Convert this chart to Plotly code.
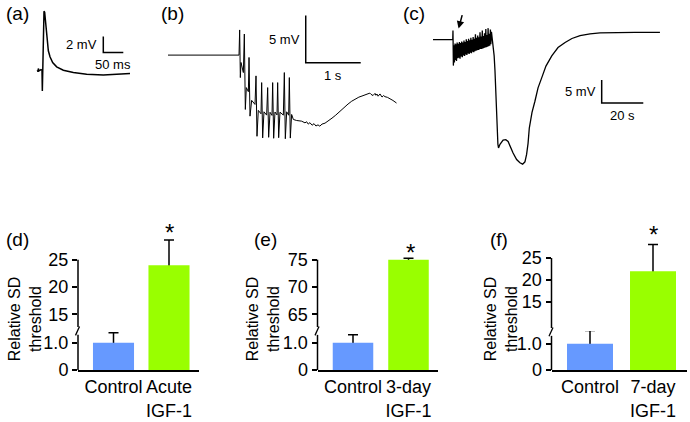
import plotly.graph_objects as go

W, H = 690, 422
FONT = "Liberation Sans, Arial, sans-serif"

# ---------------- data ----------------
# (a) single evoked response: time (ms), voltage (mV)
a_time_ms = [0, 1.75, 2.6, 4.25, 9.25, 11.75, 12.6, 13.4, 15.1, 16.75, 18.4, 20.1, 21.75,
             24.25, 27.6, 31.75, 38.4, 48.4, 65.1, 90.1, 123.4, 165.1, 198.4, 231.75]
a_volt_mv = [0.02, -0.15, 0.23, -0.06, 0.10, 0.02, -2.56, -0.90, 4.52, 7.35, 7.23, 6.40, 4.94,
             3.48, 2.44, 1.69, 0.98, 0.44, 0.02, -0.27, -0.48, -0.56, -0.48, -0.40]

# (b) burst of spikes followed by slow wave: time (s), voltage (mV)
b_time_s = [0, 1.291, 1.303, 1.315, 1.327, 1.370, 1.388, 1.406, 1.424, 1.461, 1.473, 1.491,
            1.521, 1.582, 1.600, 1.618, 1.642, 1.691, 1.703, 1.721, 1.745, 1.794, 1.812,
            1.830, 1.855, 1.891, 1.903, 1.921, 1.945, 1.982, 1.994, 2.012, 2.036, 2.097,
            2.115, 2.133, 2.158, 2.194, 2.206, 2.224, 2.248, 2.279, 2.339, 2.430, 2.491,
            2.52, 2.55, 2.58, 2.62, 2.655, 2.69, 2.727, 2.76, 2.80, 2.855, 2.92, 2.982,
            3.05, 3.127, 3.20, 3.273, 3.34, 3.40, 3.47, 3.527, 3.58, 3.636, 3.67, 3.691,
            3.727, 3.764, 3.78, 3.80, 3.82, 3.855, 3.891, 3.92, 3.945, 3.99, 4.036, 4.09, 4.155]
b_volt_mv = [0, 0, 2.66, -2.38, -0.78, -1.85, 2.23, -5.75, -3.44, -3.87, -0.25, -6.46,
             -4.79, -5.22, -2.20, -8.59, -5.85, -6.21, -2.91, -8.76, -6.00, -6.35, -3.44,
             -8.70, -6.05, -6.38, -2.91, -8.80, -6.02, -6.33, -2.91, -8.74, -6.04, -6.35,
             -1.85, -8.85, -6.00, -6.36, -2.38, -8.78, -6.28, -6.81, -6.92, -6.99, -7.17,
             -7.05, -7.30, -7.15, -7.42, -7.25, -7.50, -7.38, -7.52, -7.30, -7.20, -6.95, -6.67,
             -6.35, -5.93, -5.55, -5.18, -4.88, -4.65, -4.45, -4.33, -4.22, -4.17, -4.02, -4.15,
             -4.28, -4.05, -4.25, -4.12, -4.35, -4.11, -4.44, -4.28, -4.40, -4.47, -4.60, -4.80, -5.07]

# (c) spreading depression: time (s), voltage (mV)
c_time_s = [0, 9.5, 9.6, 9.8, 10.1, 10.3, 10.6, 10.8, 11.1, 11.3, 11.6, 11.9, 12.2, 12.4, 12.7,
            13.0, 13.3, 13.5, 13.8, 14.1, 14.4, 14.6, 14.9, 15.2, 15.5, 15.7, 16.0, 16.3,
            16.6, 16.8, 17.1, 17.4, 17.7, 17.9, 18.2, 18.5, 18.8, 19.0, 19.3, 19.6, 19.9,
            20.1, 20.4, 20.7, 21.0, 21.2, 21.5, 21.8, 22.1, 22.3, 22.6, 22.9, 23.2, 23.4,
            23.7, 24.0, 24.3, 24.5, 24.8, 25.1, 25.4, 25.6, 25.9, 26.2, 26.5, 26.7, 27.0,
            27.3, 27.6, 27.8, 28.1, 28.4, 28.6, 29.0, 29.4, 29.8, 30.3, 30.8, 31.2, 31.5,
            32.2, 33.7, 35.0, 36.1, 37.0, 38.5, 40.2, 41.8, 43.1, 44.2, 45.0, 45.7, 46.3,
            47.6, 49.0, 50.5, 52.3, 54.3, 57.1, 60.1, 63.5, 66.8, 70.7, 75.5, 80.3, 87.5,
            97.1, 109.1]
c_volt_mv = [0, 0, 2.0, -5.6, -1.2, -4.9, -0.8, -4.4, -1.0, -4.6, -0.6, -4.0, -0.9, -3.9, -0.5,
             -4.1, -0.7, -3.6, -0.4, -3.8, -0.6, -3.4, -0.2, -3.5, -0.5, -3.2, 0.1, -3.3,
             -0.3, -3.0, 0.2, -3.1, -0.1, -2.8, 0.4, -2.9, 0.0, -2.6, 0.6, -2.7, 0.2,
             -2.5, 1.2, -2.4, 0.4, -2.3, 0.9, -2.2, 0.5, -2.1, 1.6, -2.0, 0.7, -2.0,
             2.0, -1.9, 0.8, -1.8, 1.4, -1.7, 2.3, -1.6, 1.0, -1.5, 2.5, -1.4, 1.3,
             -1.3, 2.2, -1.0, 1.7, 0.5, 1.0, -0.9, -3.5, -6.7, -13.3, -19.5, -22.6, -23.4,
             -22.6, -21.7, -21.6, -22.0, -23.0, -24.5, -25.9, -26.6, -26.9, -26.4, -24.8, -22.4, -19.1,
             -15.7, -13.3, -10.4, -8.2, -5.7, -3.5, -1.7, -0.6, 0.26, 0.87, 1.26, 1.46, 1.54,
             1.59, 1.59]

# scale bars: (vertical mV, horizontal time)
scale_a = (2, 50)    # mV, ms
scale_b = (5, 1)     # mV, s
scale_c = (5, 20)    # mV, s

# (d)-(f) relative SD threshold bars
cats_d = ["Control", "Acute<br>IGF-1"]
vals_d = [1.0, 24.0]
err_d = [0.36, 4.6]
cats_e = ["Control", "3-day<br>IGF-1"]
vals_e = [1.0, 75.0]
err_e = [0.29, 0.25]
cats_f = ["Control", "7-day<br>IGF-1"]
vals_f = [1.0, 22.0]
err_f = [0.5, 6.1]
ticks_low = [0, 1.0]
ticklabels_low = ["0", "1.0"]
ticks_up_d = [15, 20, 25]
ticks_up_e = [65, 70, 75]
ticks_up_f = [15, 20, 25]
bar_colors = ["#6699FF", "#99FF00"]

# ---------------- helpers (pixel geometry) ----------------
def xdom(p0, p1):
    return [p0 / W, p1 / W]

def ydom(pb, pt):
    return [1 - pb / H, 1 - pt / H]

def xrng(p0, p1, pref, vref, ppu):
    return [vref + (p0 - pref) / ppu, vref + (p1 - pref) / ppu]

def yrng(pb, pt, pref, vref, ppu):
    return [vref - (pb - pref) / ppu, vref + (pref - pt) / ppu]

TS = 1.03          # vertical stretch of the trace row
def ty(p):
    return p * TS + 0.5

DY = 7             # vertical offset of the bar row

fig = go.Figure()
layout = dict(width=W, height=H, margin=dict(l=0, r=0, t=0, b=0),
              paper_bgcolor="white", plot_bgcolor="white", showlegend=False,
              barmode="overlay", font=dict(family=FONT, color="black"))
shapes = []
annotations = []

hidden = dict(visible=False, showgrid=False, zeroline=False, fixedrange=True)

# ---- top trace panels ----
trace_panels = [
    dict(t=a_time_ms, v=a_volt_mv, xd=(25, 140), yd=(100, 0), xref=37.3, yref=69.5,
         ppx=0.4, ppy=8.0, lw=1.5, scale=scale_a, sb=(165.0, 2.225),
         lab_v="%d mV" % scale_a[0], lab_h="%d ms" % scale_a[1]),
    dict(t=b_time_s, v=b_volt_mv, xd=(162, 405), yd=(145, 5), xref=168.0, yref=54.3,
         ppx=55.0, ppy=9.4, lw=1.0, scale=scale_b, sb=(2.504, -0.82),
         lab_v="%d mV" % scale_b[0], lab_h="%d s" % scale_b[1]),
    dict(t=c_time_s, v=c_volt_mv, xd=(425, 675), yd=(178, 5), xref=433.0, yref=39.0,
         ppx=2.08, ppy=4.6, lw=1.3, scale=scale_c, sb=(81.1, -13.7),
         lab_v="%d mV" % scale_c[0], lab_h="%d s" % scale_c[1]),
]
for i, p in enumerate(trace_panels, start=1):
    xa = "x" if i == 1 else "x%d" % i
    ya = "y" if i == 1 else "y%d" % i
    fig.add_trace(go.Scatter(x=p["t"], y=p["v"], mode="lines", xaxis=xa, yaxis=ya,
                             line=dict(color="black", width=p["lw"]), hoverinfo="skip"))
    layout["xaxis" if i == 1 else "xaxis%d" % i] = dict(
        hidden, domain=xdom(*p["xd"]), range=xrng(p["xd"][0], p["xd"][1], p["xref"], 0, p["ppx"]),
        anchor=ya)
    yb, yt = ty(p["yd"][0]), max(0, ty(p["yd"][1]))
    layout["yaxis" if i == 1 else "yaxis%d" % i] = dict(
        hidden, domain=ydom(yb, yt), range=yrng(yb, yt, ty(p["yref"]), 0, p["ppy"] * TS),
        anchor=xa)
    sx, sy = p["sb"]
    dv, dt = p["scale"]
    shapes.append(dict(type="path", xref=xa, yref=ya,
                       path="M %f,%f L %f,%f L %f,%f" % (sx, sy + dv, sx, sy, sx + dt, sy),
                       line=dict(color="black", width=1.5)))
    annotations.append(dict(xref=xa, yref=ya, x=sx, y=sy + dv * 0.5, xshift=-4,
                            text=p["lab_v"], showarrow=False, xanchor="right", yanchor="middle",
                            font=dict(size=13, family=FONT)))
    annotations.append(dict(xref=xa, yref=ya, x=sx + dt / 2, y=sy, yshift=-3,
                            text=p["lab_h"], showarrow=False, xanchor="center", yanchor="top",
                            font=dict(size=13, family=FONT)))

# arrow in (c)
annotations.append(dict(xref="x3", yref="y3", x=12.3, y=2.4, ax=4, ay=-15, showarrow=True,
                        arrowhead=2, arrowsize=1, arrowwidth=1.5, arrowcolor="black", text=""))

# ---- bar panels ----
bar_panels = [
    dict(cats=cats_d, vals=vals_d, err=err_d, up_ticks=ticks_up_d, yx=78, xend=199,
         c0=113.5, c1=169.0, bw=0.74, zero=372, one=344, brk=331, up_ref=(259, 25), up_ppu=5.6,
         title_x=25, label_x=17, star=(169, 222), line_low_top=336, line_up_bot=328),
    dict(cats=cats_e, vals=vals_e, err=err_e, up_ticks=ticks_up_e, yx=317.5, xend=438,
         c0=353.0, c1=408.5, bw=0.73, zero=372, one=344, brk=331, up_ref=(259, 75), up_ppu=5.6,
         title_x=263, label_x=265, star=(410, 242), line_low_top=336, line_up_bot=328),
    dict(cats=cats_f, vals=vals_f, err=err_f, up_ticks=ticks_up_f, yx=551.5, xend=687,
         c0=590.0, c1=653.0, bw=0.73, zero=372, one=345, brk=332, up_ref=(257.3, 25), up_ppu=4.5,
         title_x=501, label_x=499, star=(653, 224), line_low_top=337, line_up_bot=329),
]
panel_labels = ["(a)", "(b)", "(c)", "(d)", "(e)", "(f)"]
top_label_x = [17, 172, 414]
for lx, lab in zip(top_label_x, panel_labels[:3]):
    annotations.append(dict(xref="paper", yref="paper", x=lx / W, y=1 - 14 / H, text=lab,
                            showarrow=False, xanchor="center", yanchor="middle",
                            font=dict(size=19, family=FONT)))

for k, p in enumerate(bar_panels):
    nl = 4 + 2 * k
    nu = nl + 1
    xl, yl, xu, yu = "x%d" % nl, "y%d" % nl, "x%d" % nu, "y%d" % nu
    zero, one, brk = p["zero"] + DY, p["one"] + DY, p["brk"] + DY
    rp, rv = p["up_ref"]
    rp += DY
    top = 222 + DY
    ppc = p["c1"] - p["c0"]
    xr = xrng(p["yx"], p["xend"], p["c0"], 0, ppc)
    low_ppu = zero - one
    for xa, ya in ((xl, yl), (xu, yu)):
        fig.add_trace(go.Bar(x=[0, 1], y=p["vals"], width=p["bw"], xaxis=xa, yaxis=ya,
                             marker=dict(color="rgba(0,0,0,0)", line=dict(width=0)),
                             error_y=dict(type="data", array=p["err"], symmetric=True,
                                          color="black", thickness=1.5, width=5),
                             hoverinfo="skip"))
        fig.add_trace(go.Bar(x=[0, 1], y=p["vals"], width=p["bw"], xaxis=xa, yaxis=ya,
                             marker=dict(color=bar_colors, line=dict(width=0)),
                             hoverinfo="skip"))
    layout["xaxis%d" % nl] = dict(domain=xdom(p["yx"], p["xend"]), range=xr, anchor=yl,
                                  showline=True, linecolor="black", linewidth=1.5,
                                  tickvals=[0, 1], ticktext=p["cats"], ticks="",
                                  tickfont=dict(size=18, family=FONT), showgrid=False,
                                  zeroline=False, fixedrange=True)
    layout["xaxis%d" % nu] = dict(hidden, domain=xdom(p["yx"], p["xend"]), range=xr, anchor=yu)
    layout["yaxis%d" % nl] = dict(domain=ydom(zero, brk),
                                  range=yrng(zero, brk, zero, 0, low_ppu),
                                  anchor=xl, tickvals=ticks_low, ticktext=ticklabels_low,
                                  ticks="outside", ticklen=5, tickwidth=1.5, tickcolor="black",
                                  tickfont=dict(size=18, family=FONT), showline=False,
                                  showgrid=False, zeroline=False, fixedrange=True)
    layout["yaxis%d" % nu] = dict(domain=ydom(brk, top),
                                  range=yrng(brk, top, rp, rv, p["up_ppu"]),
                                  anchor=xu, tickvals=p["up_ticks"],
                                  ticktext=[str(t) for t in p["up_ticks"]],
                                  ticks="outside", ticklen=5, tickwidth=1.5, tickcolor="black",
                                  tickfont=dict(size=18, family=FONT), showline=False,
                                  showgrid=False, zeroline=False, fixedrange=True)
    # broken y-axis line
    llt, lub = p["line_low_top"] + DY, p["line_up_bot"] + DY
    low_top_val = (zero - llt) / low_ppu
    up_bot_val = rv - (lub - rp) / p["up_ppu"]
    shapes.append(dict(type="line", xref=xl + " domain", yref=yl, x0=0, x1=0, y0=0,
                       y1=low_top_val, line=dict(color="black", width=1.5)))
    shapes.append(dict(type="line", xref=xu + " domain", yref=yu, x0=0, x1=0, y0=up_bot_val,
                       y1=max(p["up_ticks"]), line=dict(color="black", width=1.5)))
    bx = p["yx"]
    shapes.append(dict(type="line", xref="paper", yref="paper",
                       x0=(bx - 2.5) / W, y0=1 - (llt + 0.5) / H,
                       x1=(bx + 1.5) / W, y1=1 - (lub - 0.5) / H,
                       line=dict(color="black", width=1.3)))
    # y title
    annotations.append(dict(xref="paper", yref="paper", x=p["title_x"] / W, y=1 - 327 / H,
                            text="Relative SD<br>threshold", textangle=-90, showarrow=False,
                            xanchor="center", yanchor="middle",
                            font=dict(size=16, family=FONT)))
    # panel label
    annotations.append(dict(xref="paper", yref="paper", x=p["label_x"] / W, y=1 - 245 / H,
                            text=panel_labels[3 + k], showarrow=False, xanchor="center",
                            yanchor="middle", font=dict(size=19, family=FONT)))
    # significance star
    sx, sy = p["star"]
    annotations.append(dict(xref="paper", yref="paper", x=sx / W, y=1 - (sy + DY) / H, text="*",
                            showarrow=False, xanchor="center", yanchor="middle", yshift=-9,
                            font=dict(size=24, family=FONT)))

layout["shapes"] = shapes
layout["annotations"] = annotations
fig.update_layout(**layout)
fig.write_html("out.html", config={"displayModeBar": False},
               post_script="document.body.style.margin='0px';")
